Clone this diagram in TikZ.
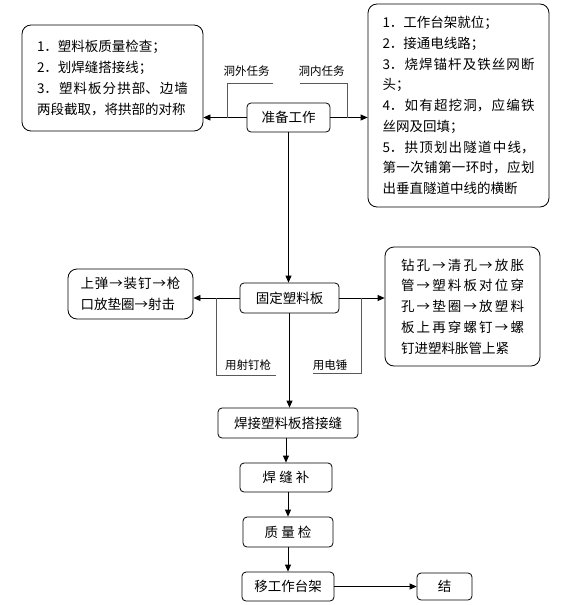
\documentclass[tikz,border=0pt]{standalone}
\usepackage{fontspec}
\setmainfont{Noto Sans CJK SC}
\XeTeXlinebreaklocale "zh"
\XeTeXlinebreakskip=0pt plus 3pt minus 0.3pt
\usepackage{tikz}
\usetikzlibrary{positioning, arrows.meta, shapes}

\begin{document}
\begin{tikzpicture}[x=1pt, y=-1pt,
    box/.style={draw, rounded corners=4pt, line width=0.8pt, inner sep=2pt, font=\fontsize{13.5}{20.7}\selectfont},
    bigbox/.style={box, rounded corners=9pt, align=justify},
    flow/.style={-{Triangle[length=7pt, width=6pt]}, line width=0.8pt},
    branch/.style={draw=gray!70!black, line width=1pt},
    lbl/.style={font=\fontsize{11.5}{13}\selectfont, inner sep=0pt}]
    \useasboundingbox (0,0) rectangle (579,605);

    % Task lists
    \node[bigbox, minimum width=181, minimum height=106, text width=151] (outside) at (112.5,78)
        {1．塑料板质量检查；\par 2．划焊缝搭接线；\par
         3．塑料板分拱部、边墙\linebreak 两段截取，将拱部的对称};
    \node[bigbox, minimum width=181, minimum height=203, text width=152] (inside) at (458.5,105.5)
        {1．工作台架就位；\par 2．接通电线路；\par
         3．烧焊锚杆及铁丝网断\linebreak 头；\par
         4．如有超挖洞，应编铁\linebreak 丝网及回填；\par
         5．拱顶划出隧道中线，\linebreak 第一次铺第一环时，应划\linebreak 出垂直隧道中线的横断};

    % Main steps
    \node[box, minimum width=83, minimum height=29] (prep) at (288.5,117.5) {准备工作};
    \node[box, minimum width=99, minimum height=30] (fix) at (289.5,298) {固定塑料板};
    \node[box, minimum width=140, minimum height=30] (weld) at (288,423) {焊接塑料板搭接缝};
    \node[box, minimum width=92, minimum height=29] (patch) at (286,477.5) {焊\ 缝\ 补};
    \node[box, minimum width=90, minimum height=30] (check) at (288,532) {质\ 量\ 检};
    \node[box, minimum width=92, minimum height=29] (move) at (288,586.5) {移工作台架};
    \node[box, minimum width=55, minimum height=27] (finish) at (444.5,586.5) {结};

    % Fixing methods
    \node[bigbox, minimum width=125, minimum height=50, text width=100] (nailgun) at (130.5,294)
        {上弹→装钉→枪\linebreak 口放垫圈→射击};
    \node[bigbox, minimum width=155, minimum height=119, text width=123] (hammer) at (462.5,306.5)
        {钻孔→清孔→放胀\linebreak 管→塑料板对位穿\linebreak 孔→垫圈→放塑料\linebreak
         板上再穿螺钉→螺\linebreak 钉进塑料胀管上紧};

    % Branch labels
    \node[lbl] (outlbl) at (246.5,71) {洞外任务};
    \node[lbl] (inlbl) at (321.5,71) {洞内任务};
    \node[lbl] (gunlbl) at (248,365) {用射钉枪};
    \node[lbl] (hammerlbl) at (330,365) {用电锤};

    \coordinate (outknee) at (227,83);
    \coordinate (outend) at (273,83);
    \coordinate (inknee) at (347,83);
    \coordinate (inend) at (300,83);
    \coordinate (gunknee) at (216,375);
    \coordinate (gunend) at (276,375);
    \coordinate (hammerknee) at (361,373);
    \coordinate (hammerend) at (313,373);

    % Relationships
    \draw[flow] (prep.west) -- (prep.west -| outside.east);
    \draw[flow] (prep.east) -- (prep.east -| inside.west);
    \draw[flow] (prep.south) -- (prep.south |- fix.north);
    \draw[flow] (fix.west) -- (fix.west -| nailgun.east);
    \draw[flow] (fix.east) -- (fix.east -| hammer.west);
    \draw[flow] (fix.south) -- (fix.south |- weld.north);
    \draw[flow] (weld.south -| patch.north) -- (patch.north);
    \draw[flow] (patch.south -| check.north) -- (check.north);
    \draw[flow] (check.south) -- (move.north);
    \draw[flow] (move.east) -- (finish.west);

    \draw[branch] (outend) -- (outknee) -- (outknee |- prep.west);
    \draw[branch] (inend) -- (inknee) -- (inknee |- prep.east);
    \draw[branch] (gunend) -- (gunknee) -- (gunknee |- fix.west);
    \draw[branch] (hammerend) -- (hammerknee) -- (hammerknee |- fix.east);
\end{tikzpicture}
\end{document}
